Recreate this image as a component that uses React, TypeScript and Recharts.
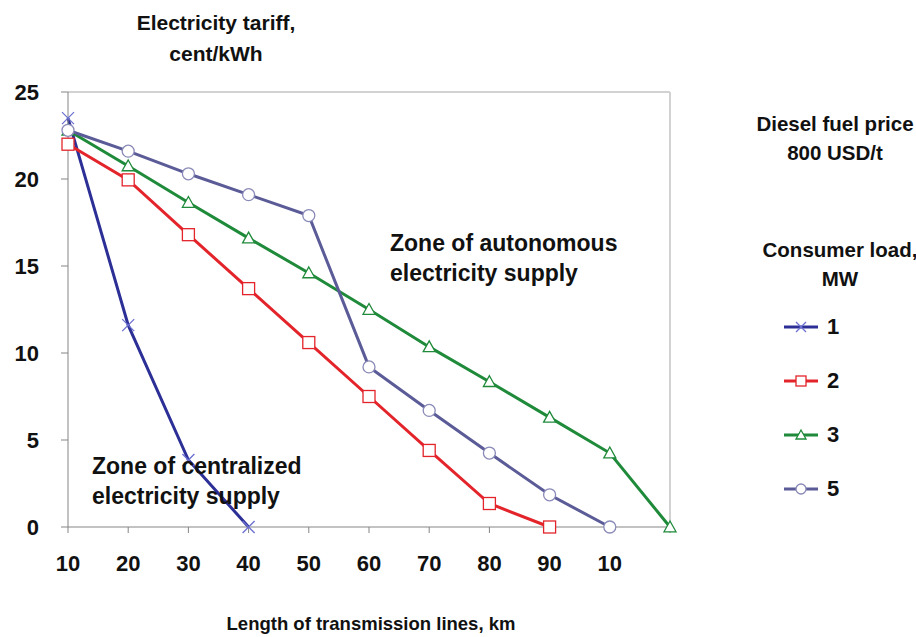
import React from 'react';
import {
  LineChart,
  Line,
  XAxis,
  YAxis,
  ReferenceLine,
} from 'recharts';

// x positions (km); last point has no label in the source
const X_KM = [10, 20, 30, 40, 50, 60, 70, 80, 90, 100, 110];
const X_LABELS = ['10', '20', '30', '40', '50', '60', '70', '80', '90', '10', ''];
const Y_TICKS = [0, 5, 10, 15, 20, 25];

// tariff, cent/kWh per consumer load
const LOAD_1 = [23.5, 11.6, 3.85, 0];
const LOAD_2 = [22.0, 19.95, 16.8, 13.7, 10.6, 7.5, 4.4, 1.35, 0];
const LOAD_3 = [22.8, 20.75, 18.65, 16.6, 14.6, 12.5, 10.35, 8.35, 6.3, 4.25, 0];
const LOAD_5 = [22.8, 21.6, 20.3, 19.1, 17.9, 9.2, 6.7, 4.25, 1.85, 0];

const SERIES = [
  { key: 's1', name: '1', values: LOAD_1, color: '#2c2f96', shape: 'cross' },
  { key: 's2', name: '2', values: LOAD_2, color: '#e3242b', shape: 'square' },
  { key: 's3', name: '3', values: LOAD_3, color: '#1f8a3a', shape: 'triangle' },
  { key: 's5', name: '5', values: LOAD_5, color: '#5b5b98', shape: 'circle' },
];

const data = X_KM.map((km, i) => {
  const row: Record<string, number | null> = { km };
  SERIES.forEach(s => {
    row[s.key] = i < s.values.length ? s.values[i] : null;
  });
  return row;
});

const FONT = '"Liberation Sans", Arial, sans-serif';

function Marker({ shape, cx, cy, color, r = 6 }: { shape: string; cx: number; cy: number; color: string; r?: number }) {
  if (shape === 'cross') {
    return (
      <g stroke="#6b6fd0" strokeWidth={1.3}>
        <line x1={cx - r} y1={cy - r} x2={cx + r} y2={cy + r} />
        <line x1={cx - r} y1={cy + r} x2={cx + r} y2={cy - r} />
      </g>
    );
  }
  if (shape === 'square') {
    return <rect x={cx - r} y={cy - r} width={r * 2} height={r * 2} fill="#fff" stroke={color} strokeWidth={1.3} />;
  }
  if (shape === 'triangle') {
    return (
      <polygon
        points={`${cx},${cy - r} ${cx + r},${cy + r * 0.8} ${cx - r},${cy + r * 0.8}`}
        fill="#fff"
        stroke={color}
        strokeWidth={1.3}
      />
    );
  }
  return <circle cx={cx} cy={cy} r={r} fill="#fff" stroke="#8a8ab8" strokeWidth={1.3} />;
}

function makeDot(shape: string, color: string) {
  return (props: any) => {
    const { cx, cy, index, value } = props;
    if (value == null || cx == null || cy == null) return <g key={`d-${index}`} />;
    return (
      <g key={`d-${index}`}>
        <Marker shape={shape} cx={cx} cy={cy} color={color} />
      </g>
    );
  };
}

const textStyle: React.CSSProperties = {
  position: 'absolute',
  fontFamily: FONT,
  fontWeight: 'bold',
  color: '#111',
  whiteSpace: 'nowrap',
};

function LegendBox() {
  return (
    <div style={{ ...textStyle, left: 782, top: 300, fontSize: 22 }}>
      {SERIES.map(s => (
        <div key={s.key} style={{ height: 54, display: 'flex', alignItems: 'center' }}>
          <svg width={38} height={16}>
            <line x1={2} y1={8} x2={36} y2={8} stroke={s.color} strokeWidth={3} />
            <Marker shape={s.shape} cx={19} cy={8} color={s.color} r={5} />
          </svg>
          <span style={{ marginLeft: 7 }}>{s.name}</span>
        </div>
      ))}
    </div>
  );
}

export default function App() {
  const tickStyle = { fontSize: 22, fontWeight: 'bold', fill: '#111', fontFamily: FONT };
  return (
    <div style={{ position: 'absolute', left: 0, top: 0, width: 916, height: 637, background: '#fff' }}>
      <LineChart
        width={916}
        height={637}
        data={data}
        margin={{ top: 92, right: 246, left: 8, bottom: 70 }}
      >
        <XAxis
          dataKey="km"
          type="number"
          domain={[10, 110]}
          ticks={X_KM}
          tickFormatter={v => X_LABELS[X_KM.indexOf(v)] ?? ''}
          stroke="#858585"
          tickSize={6}
          tickMargin={22}
          height={40}
          tick={tickStyle}
        />
        <YAxis
          domain={[0, 25]}
          ticks={Y_TICKS}
          stroke="#858585"
          tickSize={7}
          tickMargin={22}
          width={60}
          tick={tickStyle}
        />
        <ReferenceLine y={25} stroke="#d2d2d2" strokeWidth={2} />
        <ReferenceLine x={110} stroke="#d2d2d2" strokeWidth={2} />
        {SERIES.map(s => (
          <Line
            key={s.key}
            dataKey={s.key}
            name={s.name}
            type="linear"
            stroke={s.color}
            strokeWidth={3}
            dot={makeDot(s.shape, s.color)}
            activeDot={false}
            isAnimationActive={false}
          />
        ))}
      </LineChart>

      <div style={{ ...textStyle, left: 116, top: 7, width: 200, textAlign: 'center', fontSize: 21, lineHeight: '31px' }}>
        Electricity tariff,<br />cent/kWh
      </div>
      <div style={{ ...textStyle, left: 740, top: 109, width: 190, textAlign: 'center', fontSize: 20.5, lineHeight: '29px' }}>
        Diesel fuel price<br />800 USD/t
      </div>
      <div style={{ ...textStyle, left: 745, top: 235, width: 190, textAlign: 'center', fontSize: 20.5, lineHeight: '29px' }}>
        Consumer load,<br />MW
      </div>
      <div style={{ ...textStyle, left: 390, top: 228, fontSize: 23, lineHeight: '30px' }}>
        Zone of autonomous<br />electricity supply
      </div>
      <div style={{ ...textStyle, left: 92, top: 451, fontSize: 23, lineHeight: '30px' }}>
        Zone of centralized<br />electricity supply
      </div>
      <div style={{ ...textStyle, left: 171, top: 613, width: 400, textAlign: 'center', fontSize: 18.5 }}>
        Length of transmission lines, km
      </div>
      <LegendBox />
    </div>
  );
}
